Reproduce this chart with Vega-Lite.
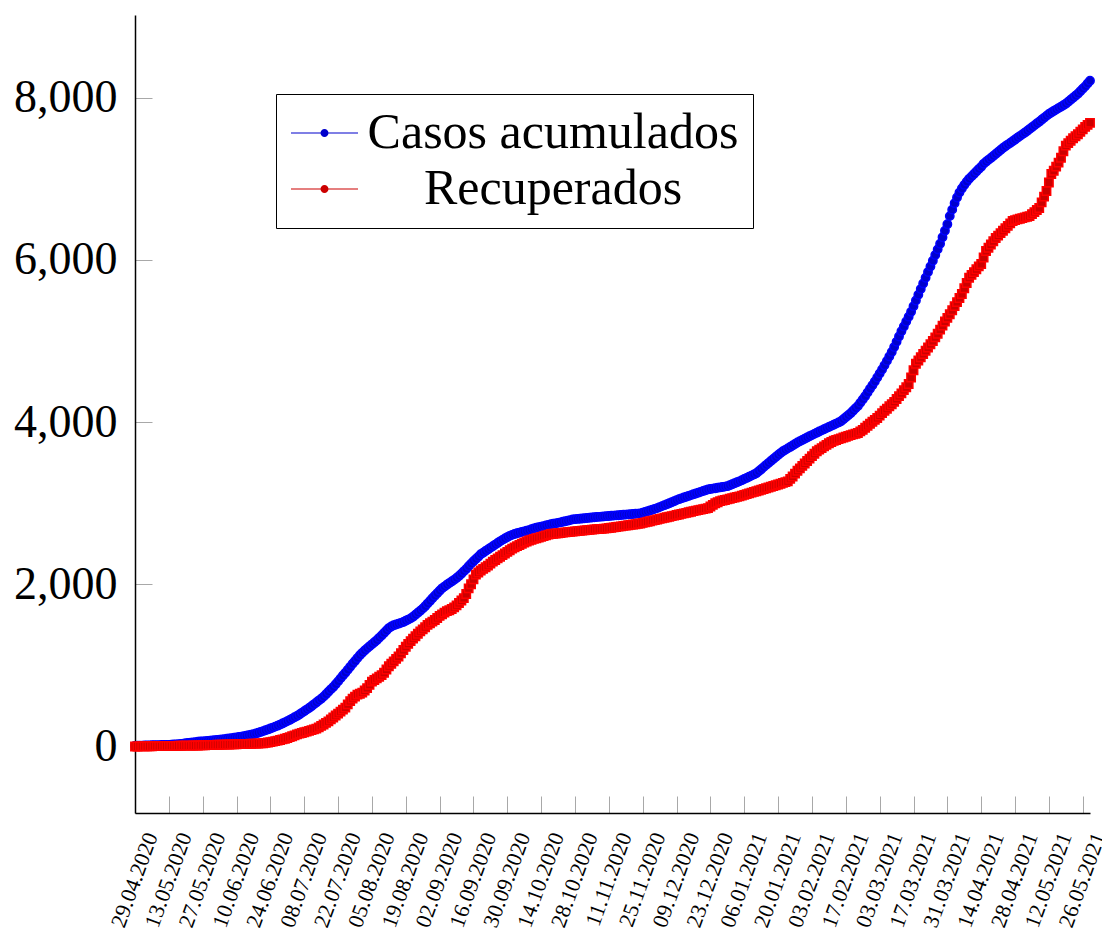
{
"$schema": "https://vega.github.io/schema/vega-lite/v6.json",
"width": 955,
"height": 798,
"autosize": {"type": "none"},
"padding": {"left": 135, "top": 15, "right": 12, "bottom": 119},
"background": "white",
"config": {"view": {"stroke": null}, "font": "Liberation Serif"},
"data": {"values": [
{"date":"2020-04-29","c":8,"r":0},{"date":"2020-04-30","c":9,"r":0},
{"date":"2020-05-01","c":10,"r":1},{"date":"2020-05-02","c":11,"r":1},{"date":"2020-05-03","c":12,"r":2},{"date":"2020-05-04","c":13,"r":2},{"date":"2020-05-05","c":14,"r":3},{"date":"2020-05-06","c":15,"r":3},{"date":"2020-05-07","c":15,"r":4},{"date":"2020-05-08","c":16,"r":4},{"date":"2020-05-09","c":17,"r":5},{"date":"2020-05-10","c":18,"r":5},{"date":"2020-05-11","c":19,"r":6},{"date":"2020-05-12","c":19,"r":6},{"date":"2020-05-13","c":20,"r":7},{"date":"2020-05-14","c":22,"r":7},{"date":"2020-05-15","c":24,"r":8},{"date":"2020-05-16","c":27,"r":8},{"date":"2020-05-17","c":30,"r":9},{"date":"2020-05-18","c":33,"r":9},{"date":"2020-05-19","c":36,"r":10},{"date":"2020-05-20","c":40,"r":10},{"date":"2020-05-21","c":43,"r":11},{"date":"2020-05-22","c":46,"r":11},{"date":"2020-05-23","c":50,"r":12},{"date":"2020-05-24","c":54,"r":12},{"date":"2020-05-25","c":58,"r":13},{"date":"2020-05-26","c":61,"r":14},{"date":"2020-05-27","c":64,"r":15},{"date":"2020-05-28","c":67,"r":16},{"date":"2020-05-29","c":70,"r":17},{"date":"2020-05-30","c":73,"r":18},{"date":"2020-05-31","c":76,"r":19},
{"date":"2020-06-01","c":79,"r":20},{"date":"2020-06-02","c":82,"r":21},{"date":"2020-06-03","c":85,"r":22},{"date":"2020-06-04","c":88,"r":23},{"date":"2020-06-05","c":91,"r":23},{"date":"2020-06-06","c":95,"r":24},{"date":"2020-06-07","c":100,"r":25},{"date":"2020-06-08","c":104,"r":26},{"date":"2020-06-09","c":108,"r":27},{"date":"2020-06-10","c":112,"r":28},{"date":"2020-06-11","c":117,"r":29},{"date":"2020-06-12","c":122,"r":30},{"date":"2020-06-13","c":128,"r":31},{"date":"2020-06-14","c":133,"r":32},{"date":"2020-06-15","c":139,"r":33},{"date":"2020-06-16","c":145,"r":34},{"date":"2020-06-17","c":152,"r":35},{"date":"2020-06-18","c":160,"r":36},{"date":"2020-06-19","c":170,"r":37},{"date":"2020-06-20","c":180,"r":38},{"date":"2020-06-21","c":190,"r":40},{"date":"2020-06-22","c":200,"r":44},{"date":"2020-06-23","c":211,"r":49},{"date":"2020-06-24","c":222,"r":54},{"date":"2020-06-25","c":233,"r":60},{"date":"2020-06-26","c":245,"r":66},{"date":"2020-06-27","c":257,"r":73},{"date":"2020-06-28","c":270,"r":80},{"date":"2020-06-29","c":284,"r":88},{"date":"2020-06-30","c":298,"r":96},
{"date":"2020-07-01","c":313,"r":105},{"date":"2020-07-02","c":328,"r":115},{"date":"2020-07-03","c":344,"r":126},{"date":"2020-07-04","c":360,"r":138},{"date":"2020-07-05","c":377,"r":150},{"date":"2020-07-06","c":395,"r":158},{"date":"2020-07-07","c":415,"r":166},{"date":"2020-07-08","c":435,"r":175},{"date":"2020-07-09","c":455,"r":184},{"date":"2020-07-10","c":475,"r":193},{"date":"2020-07-11","c":497,"r":202},{"date":"2020-07-12","c":520,"r":211},{"date":"2020-07-13","c":543,"r":220},{"date":"2020-07-14","c":566,"r":236},{"date":"2020-07-15","c":590,"r":254},{"date":"2020-07-16","c":615,"r":272},{"date":"2020-07-17","c":645,"r":291},{"date":"2020-07-18","c":675,"r":310},{"date":"2020-07-19","c":705,"r":334},{"date":"2020-07-20","c":735,"r":358},{"date":"2020-07-21","c":768,"r":382},{"date":"2020-07-22","c":803,"r":406},{"date":"2020-07-23","c":840,"r":430},{"date":"2020-07-24","c":875,"r":455},{"date":"2020-07-25","c":910,"r":480},{"date":"2020-07-26","c":945,"r":520},{"date":"2020-07-27","c":982,"r":560},{"date":"2020-07-28","c":1020,"r":590},{"date":"2020-07-29","c":1055,"r":615},{"date":"2020-07-30","c":1090,"r":640},{"date":"2020-07-31","c":1125,"r":650},
{"date":"2020-08-01","c":1155,"r":665},{"date":"2020-08-02","c":1185,"r":690},{"date":"2020-08-03","c":1210,"r":720},{"date":"2020-08-04","c":1235,"r":760},{"date":"2020-08-05","c":1260,"r":800},{"date":"2020-08-06","c":1285,"r":820},{"date":"2020-08-07","c":1310,"r":840},{"date":"2020-08-08","c":1340,"r":860},{"date":"2020-08-09","c":1370,"r":880},{"date":"2020-08-10","c":1400,"r":910},{"date":"2020-08-11","c":1430,"r":950},{"date":"2020-08-12","c":1460,"r":990},{"date":"2020-08-13","c":1480,"r":1020},{"date":"2020-08-14","c":1495,"r":1050},{"date":"2020-08-15","c":1505,"r":1080},{"date":"2020-08-16","c":1515,"r":1110},{"date":"2020-08-17","c":1525,"r":1150},{"date":"2020-08-18","c":1535,"r":1190},{"date":"2020-08-19","c":1550,"r":1230},{"date":"2020-08-20","c":1565,"r":1265},{"date":"2020-08-21","c":1580,"r":1300},{"date":"2020-08-22","c":1600,"r":1330},{"date":"2020-08-23","c":1625,"r":1360},{"date":"2020-08-24","c":1650,"r":1390},{"date":"2020-08-25","c":1675,"r":1420},{"date":"2020-08-26","c":1700,"r":1445},{"date":"2020-08-27","c":1730,"r":1470},{"date":"2020-08-28","c":1762,"r":1500},{"date":"2020-08-29","c":1795,"r":1520},{"date":"2020-08-30","c":1828,"r":1540},{"date":"2020-08-31","c":1860,"r":1560},
{"date":"2020-09-01","c":1890,"r":1585},{"date":"2020-09-02","c":1920,"r":1610},{"date":"2020-09-03","c":1950,"r":1630},{"date":"2020-09-04","c":1972,"r":1650},{"date":"2020-09-05","c":1995,"r":1670},{"date":"2020-09-06","c":2015,"r":1680},{"date":"2020-09-07","c":2035,"r":1695},{"date":"2020-09-08","c":2055,"r":1715},{"date":"2020-09-09","c":2078,"r":1740},{"date":"2020-09-10","c":2102,"r":1770},{"date":"2020-09-11","c":2130,"r":1800},{"date":"2020-09-12","c":2160,"r":1830},{"date":"2020-09-13","c":2190,"r":1880},{"date":"2020-09-14","c":2222,"r":1950},{"date":"2020-09-15","c":2255,"r":2000},{"date":"2020-09-16","c":2285,"r":2060},{"date":"2020-09-17","c":2312,"r":2120},{"date":"2020-09-18","c":2340,"r":2145},{"date":"2020-09-19","c":2370,"r":2170},{"date":"2020-09-20","c":2390,"r":2190},{"date":"2020-09-21","c":2410,"r":2210},{"date":"2020-09-22","c":2430,"r":2230},{"date":"2020-09-23","c":2450,"r":2255},{"date":"2020-09-24","c":2470,"r":2280},{"date":"2020-09-25","c":2490,"r":2300},{"date":"2020-09-26","c":2510,"r":2320},{"date":"2020-09-27","c":2530,"r":2340},{"date":"2020-09-28","c":2548,"r":2360},{"date":"2020-09-29","c":2565,"r":2380},{"date":"2020-09-30","c":2582,"r":2400},
{"date":"2020-10-01","c":2598,"r":2420},{"date":"2020-10-02","c":2610,"r":2440},{"date":"2020-10-03","c":2620,"r":2455},{"date":"2020-10-04","c":2630,"r":2470},{"date":"2020-10-05","c":2638,"r":2485},{"date":"2020-10-06","c":2645,"r":2500},{"date":"2020-10-07","c":2652,"r":2515},{"date":"2020-10-08","c":2660,"r":2528},{"date":"2020-10-09","c":2668,"r":2540},{"date":"2020-10-10","c":2680,"r":2550},{"date":"2020-10-11","c":2690,"r":2560},{"date":"2020-10-12","c":2697,"r":2568},{"date":"2020-10-13","c":2704,"r":2576},{"date":"2020-10-14","c":2711,"r":2585},{"date":"2020-10-15","c":2718,"r":2594},{"date":"2020-10-16","c":2725,"r":2603},{"date":"2020-10-17","c":2733,"r":2612},{"date":"2020-10-18","c":2740,"r":2620},{"date":"2020-10-19","c":2746,"r":2623},{"date":"2020-10-20","c":2752,"r":2627},{"date":"2020-10-21","c":2758,"r":2630},{"date":"2020-10-22","c":2764,"r":2633},{"date":"2020-10-23","c":2771,"r":2637},{"date":"2020-10-24","c":2778,"r":2640},{"date":"2020-10-25","c":2785,"r":2643},{"date":"2020-10-26","c":2792,"r":2647},{"date":"2020-10-27","c":2800,"r":2650},{"date":"2020-10-28","c":2803,"r":2653},{"date":"2020-10-29","c":2806,"r":2656},{"date":"2020-10-30","c":2809,"r":2659},{"date":"2020-10-31","c":2812,"r":2662},
{"date":"2020-11-01","c":2815,"r":2665},{"date":"2020-11-02","c":2818,"r":2668},{"date":"2020-11-03","c":2821,"r":2671},{"date":"2020-11-04","c":2824,"r":2674},{"date":"2020-11-05","c":2827,"r":2677},{"date":"2020-11-06","c":2830,"r":2680},{"date":"2020-11-07","c":2832,"r":2682},{"date":"2020-11-08","c":2834,"r":2684},{"date":"2020-11-09","c":2837,"r":2687},{"date":"2020-11-10","c":2840,"r":2690},{"date":"2020-11-11","c":2842,"r":2694},{"date":"2020-11-12","c":2845,"r":2698},{"date":"2020-11-13","c":2847,"r":2702},{"date":"2020-11-14","c":2850,"r":2706},{"date":"2020-11-15","c":2852,"r":2711},{"date":"2020-11-16","c":2855,"r":2715},{"date":"2020-11-17","c":2857,"r":2720},{"date":"2020-11-18","c":2860,"r":2724},{"date":"2020-11-19","c":2862,"r":2728},{"date":"2020-11-20","c":2865,"r":2733},{"date":"2020-11-21","c":2867,"r":2737},{"date":"2020-11-22","c":2870,"r":2741},{"date":"2020-11-23","c":2872,"r":2746},{"date":"2020-11-24","c":2875,"r":2750},{"date":"2020-11-25","c":2883,"r":2757},{"date":"2020-11-26","c":2892,"r":2764},{"date":"2020-11-27","c":2901,"r":2771},{"date":"2020-11-28","c":2910,"r":2778},{"date":"2020-11-29","c":2920,"r":2785},{"date":"2020-11-30","c":2930,"r":2792},
{"date":"2020-12-01","c":2940,"r":2799},{"date":"2020-12-02","c":2952,"r":2806},{"date":"2020-12-03","c":2964,"r":2813},{"date":"2020-12-04","c":2976,"r":2820},{"date":"2020-12-05","c":2988,"r":2827},{"date":"2020-12-06","c":3000,"r":2833},{"date":"2020-12-07","c":3012,"r":2840},{"date":"2020-12-08","c":3025,"r":2847},{"date":"2020-12-09","c":3038,"r":2854},{"date":"2020-12-10","c":3050,"r":2861},{"date":"2020-12-11","c":3060,"r":2868},{"date":"2020-12-12","c":3070,"r":2874},{"date":"2020-12-13","c":3080,"r":2881},{"date":"2020-12-14","c":3090,"r":2888},{"date":"2020-12-15","c":3100,"r":2895},{"date":"2020-12-16","c":3110,"r":2902},{"date":"2020-12-17","c":3120,"r":2908},{"date":"2020-12-18","c":3130,"r":2915},{"date":"2020-12-19","c":3140,"r":2921},{"date":"2020-12-20","c":3150,"r":2927},{"date":"2020-12-21","c":3160,"r":2934},{"date":"2020-12-22","c":3170,"r":2940},{"date":"2020-12-23","c":3175,"r":2960},{"date":"2020-12-24","c":3180,"r":2980},{"date":"2020-12-25","c":3185,"r":3000},{"date":"2020-12-26","c":3190,"r":3012},{"date":"2020-12-27","c":3195,"r":3025},{"date":"2020-12-28","c":3200,"r":3033},{"date":"2020-12-29","c":3205,"r":3040},{"date":"2020-12-30","c":3210,"r":3048},{"date":"2020-12-31","c":3222,"r":3055},
{"date":"2021-01-01","c":3234,"r":3063},{"date":"2021-01-02","c":3246,"r":3070},{"date":"2021-01-03","c":3258,"r":3078},{"date":"2021-01-04","c":3270,"r":3085},{"date":"2021-01-05","c":3284,"r":3094},{"date":"2021-01-06","c":3298,"r":3103},{"date":"2021-01-07","c":3312,"r":3112},{"date":"2021-01-08","c":3326,"r":3121},{"date":"2021-01-09","c":3340,"r":3130},{"date":"2021-01-10","c":3355,"r":3139},{"date":"2021-01-11","c":3370,"r":3148},{"date":"2021-01-12","c":3395,"r":3157},{"date":"2021-01-13","c":3420,"r":3166},{"date":"2021-01-14","c":3445,"r":3175},{"date":"2021-01-15","c":3470,"r":3185},{"date":"2021-01-16","c":3495,"r":3194},{"date":"2021-01-17","c":3520,"r":3203},{"date":"2021-01-18","c":3545,"r":3212},{"date":"2021-01-19","c":3570,"r":3221},{"date":"2021-01-20","c":3595,"r":3230},{"date":"2021-01-21","c":3618,"r":3240},{"date":"2021-01-22","c":3640,"r":3250},{"date":"2021-01-23","c":3658,"r":3260},{"date":"2021-01-24","c":3676,"r":3270},{"date":"2021-01-25","c":3694,"r":3300},{"date":"2021-01-26","c":3712,"r":3330},{"date":"2021-01-27","c":3730,"r":3365},{"date":"2021-01-28","c":3748,"r":3400},{"date":"2021-01-29","c":3765,"r":3430},{"date":"2021-01-30","c":3780,"r":3460},{"date":"2021-01-31","c":3795,"r":3490},
{"date":"2021-02-01","c":3810,"r":3520},{"date":"2021-02-02","c":3825,"r":3550},{"date":"2021-02-03","c":3840,"r":3580},{"date":"2021-02-04","c":3855,"r":3610},{"date":"2021-02-05","c":3870,"r":3640},{"date":"2021-02-06","c":3884,"r":3660},{"date":"2021-02-07","c":3898,"r":3680},{"date":"2021-02-08","c":3912,"r":3700},{"date":"2021-02-09","c":3926,"r":3720},{"date":"2021-02-10","c":3940,"r":3740},{"date":"2021-02-11","c":3954,"r":3755},{"date":"2021-02-12","c":3968,"r":3770},{"date":"2021-02-13","c":3982,"r":3780},{"date":"2021-02-14","c":3996,"r":3790},{"date":"2021-02-15","c":4010,"r":3800},{"date":"2021-02-16","c":4035,"r":3810},{"date":"2021-02-17","c":4060,"r":3820},{"date":"2021-02-18","c":4085,"r":3830},{"date":"2021-02-19","c":4110,"r":3840},{"date":"2021-02-20","c":4140,"r":3848},{"date":"2021-02-21","c":4170,"r":3856},{"date":"2021-02-22","c":4200,"r":3865},{"date":"2021-02-23","c":4240,"r":3885},{"date":"2021-02-24","c":4280,"r":3905},{"date":"2021-02-25","c":4320,"r":3930},{"date":"2021-02-26","c":4365,"r":3955},{"date":"2021-02-27","c":4410,"r":3980},{"date":"2021-02-28","c":4455,"r":4005},
{"date":"2021-03-01","c":4500,"r":4028},{"date":"2021-03-02","c":4550,"r":4050},{"date":"2021-03-03","c":4600,"r":4080},{"date":"2021-03-04","c":4650,"r":4110},{"date":"2021-03-05","c":4700,"r":4140},{"date":"2021-03-06","c":4755,"r":4165},{"date":"2021-03-07","c":4810,"r":4195},{"date":"2021-03-08","c":4865,"r":4220},{"date":"2021-03-09","c":4925,"r":4250},{"date":"2021-03-10","c":4990,"r":4285},{"date":"2021-03-11","c":5055,"r":4320},{"date":"2021-03-12","c":5120,"r":4355},{"date":"2021-03-13","c":5180,"r":4395},{"date":"2021-03-14","c":5240,"r":4430},{"date":"2021-03-15","c":5300,"r":4470},{"date":"2021-03-16","c":5360,"r":4550},{"date":"2021-03-17","c":5430,"r":4640},{"date":"2021-03-18","c":5500,"r":4720},{"date":"2021-03-19","c":5570,"r":4760},{"date":"2021-03-20","c":5640,"r":4800},{"date":"2021-03-21","c":5710,"r":4840},{"date":"2021-03-22","c":5780,"r":4880},{"date":"2021-03-23","c":5850,"r":4920},{"date":"2021-03-24","c":5920,"r":4960},{"date":"2021-03-25","c":5990,"r":5000},{"date":"2021-03-26","c":6060,"r":5045},{"date":"2021-03-27","c":6130,"r":5090},{"date":"2021-03-28","c":6200,"r":5140},{"date":"2021-03-29","c":6280,"r":5190},{"date":"2021-03-30","c":6360,"r":5240},{"date":"2021-03-31","c":6440,"r":5285},
{"date":"2021-04-01","c":6540,"r":5330},{"date":"2021-04-02","c":6620,"r":5380},{"date":"2021-04-03","c":6700,"r":5430},{"date":"2021-04-04","c":6770,"r":5480},{"date":"2021-04-05","c":6830,"r":5530},{"date":"2021-04-06","c":6880,"r":5580},{"date":"2021-04-07","c":6925,"r":5650},{"date":"2021-04-08","c":6965,"r":5715},{"date":"2021-04-09","c":7000,"r":5780},{"date":"2021-04-10","c":7030,"r":5815},{"date":"2021-04-11","c":7060,"r":5850},{"date":"2021-04-12","c":7090,"r":5885},{"date":"2021-04-13","c":7120,"r":5920},{"date":"2021-04-14","c":7150,"r":5950},{"date":"2021-04-15","c":7185,"r":6030},{"date":"2021-04-16","c":7210,"r":6110},{"date":"2021-04-17","c":7234,"r":6150},{"date":"2021-04-18","c":7258,"r":6190},{"date":"2021-04-19","c":7282,"r":6230},{"date":"2021-04-20","c":7306,"r":6270},{"date":"2021-04-21","c":7330,"r":6300},{"date":"2021-04-22","c":7355,"r":6330},{"date":"2021-04-23","c":7380,"r":6360},{"date":"2021-04-24","c":7401,"r":6390},{"date":"2021-04-25","c":7422,"r":6420},{"date":"2021-04-26","c":7443,"r":6450},{"date":"2021-04-27","c":7464,"r":6480},{"date":"2021-04-28","c":7485,"r":6490},{"date":"2021-04-29","c":7506,"r":6500},{"date":"2021-04-30","c":7527,"r":6508},
{"date":"2021-05-01","c":7548,"r":6516},{"date":"2021-05-02","c":7569,"r":6524},{"date":"2021-05-03","c":7590,"r":6532},{"date":"2021-05-04","c":7613,"r":6540},{"date":"2021-05-05","c":7636,"r":6565},{"date":"2021-05-06","c":7659,"r":6590},{"date":"2021-05-07","c":7682,"r":6615},{"date":"2021-05-08","c":7705,"r":6640},{"date":"2021-05-09","c":7728,"r":6710},{"date":"2021-05-10","c":7752,"r":6780},{"date":"2021-05-11","c":7776,"r":6850},{"date":"2021-05-12","c":7800,"r":6955},{"date":"2021-05-13","c":7818,"r":7060},{"date":"2021-05-14","c":7836,"r":7100},{"date":"2021-05-15","c":7854,"r":7150},{"date":"2021-05-16","c":7872,"r":7200},{"date":"2021-05-17","c":7890,"r":7260},{"date":"2021-05-18","c":7908,"r":7340},{"date":"2021-05-19","c":7925,"r":7410},{"date":"2021-05-20","c":7950,"r":7440},{"date":"2021-05-21","c":7975,"r":7470},{"date":"2021-05-22","c":8000,"r":7500},{"date":"2021-05-23","c":8025,"r":7525},{"date":"2021-05-24","c":8050,"r":7550},{"date":"2021-05-25","c":8080,"r":7580},{"date":"2021-05-26","c":8110,"r":7610},{"date":"2021-05-27","c":8140,"r":7640},{"date":"2021-05-28","c":8175,"r":7665},{"date":"2021-05-29","c":8210,"r":7690}
]},
"transform": [{"fold": ["c", "r"], "as": ["serie", "valor"]}],
"encoding": {
  "x": {
    "field": "date", "type": "temporal",
    "scale": {"type": "utc", "nice": false, "domain": [{"year": 2020, "month": 4, "date": 29, "utc": true}, {"year": 2021, "month": 5, "date": 29, "utc": true}]},
    "axis": {
      "title": null, "grid": false,
      "values": [
        {"year":2020,"month":4,"date":29,"utc":true},{"year":2020,"month":5,"date":13,"utc":true},{"year":2020,"month":5,"date":27,"utc":true},
        {"year":2020,"month":6,"date":10,"utc":true},{"year":2020,"month":6,"date":24,"utc":true},{"year":2020,"month":7,"date":8,"utc":true},
        {"year":2020,"month":7,"date":22,"utc":true},{"year":2020,"month":8,"date":5,"utc":true},{"year":2020,"month":8,"date":19,"utc":true},
        {"year":2020,"month":9,"date":2,"utc":true},{"year":2020,"month":9,"date":16,"utc":true},{"year":2020,"month":9,"date":30,"utc":true},
        {"year":2020,"month":10,"date":14,"utc":true},{"year":2020,"month":10,"date":28,"utc":true},{"year":2020,"month":11,"date":11,"utc":true},
        {"year":2020,"month":11,"date":25,"utc":true},{"year":2020,"month":12,"date":9,"utc":true},{"year":2020,"month":12,"date":23,"utc":true},
        {"year":2021,"month":1,"date":6,"utc":true},{"year":2021,"month":1,"date":20,"utc":true},{"year":2021,"month":2,"date":3,"utc":true},
        {"year":2021,"month":2,"date":17,"utc":true},{"year":2021,"month":3,"date":3,"utc":true},{"year":2021,"month":3,"date":17,"utc":true},
        {"year":2021,"month":3,"date":31,"utc":true},{"year":2021,"month":4,"date":14,"utc":true},{"year":2021,"month":4,"date":28,"utc":true},
        {"year":2021,"month":5,"date":12,"utc":true},{"year":2021,"month":5,"date":26,"utc":true}
      ],
      "labelExpr": "utcFormat(datum.value, '%d.%m.%Y')",
      "labelAngle": -70, "labelAlign": "right", "labelBaseline": "middle",
      "labelFont": "Liberation Serif", "labelFontSize": 22, "labelColor": "black",
      "labelPadding": 37, "labelOffset": 16,
      "labelOverlap": false, "labelFlush": false, "labelBound": false,
      "tickSize": -17, "tickColor": "#a8a8a8", "tickWidth": 1,
      "domainColor": "black", "domainWidth": 1.5
    }
  },
  "y": {
    "field": "valor", "type": "quantitative",
    "scale": {"domain": [-820, 9020], "nice": false, "zero": false},
    "axis": {
      "title": null, "grid": false,
      "values": [0, 2000, 4000, 6000, 8000], "format": ",d",
      "labelFont": "Liberation Serif", "labelFontSize": 46, "labelColor": "black",
      "labelPadding": 35,
      "tickSize": -17, "tickColor": "#a8a8a8", "tickWidth": 1,
      "domainColor": "black", "domainWidth": 1.5
    }
  }
},
"layer": [
  {
    "transform": [{"filter": "datum.serie == 'c'"}],
    "mark": {"type": "point", "filled": true, "opacity": 1, "shape": "circle", "stroke": "#0000ff", "strokeWidth": 1.5, "size": 70},
    "encoding": {
      "color": {
        "field": "serie", "type": "nominal",
        "scale": {"domain": ["c", "r"], "range": ["#0000cc", "#cc0000"]},
        "legend": {
          "orient": "none", "legendX": 141, "legendY": 79, "title": null,
          "labelExpr": "datum.value == 'c' ? 'Casos acumulados' : 'Recuperados'",
          "labelFont": "Liberation Serif", "labelFontSize": 50, "labelColor": "black",
          "labelAlign": "center", "labelOffset": 213, "labelLimit": 1000,
          "symbolSize": 1600, "symbolStrokeWidth": 0, "symbolOpacity": 1,
          "symbolType": "M-1.2,-0.03L2.15,-0.03L2.15,0.03L-1.2,0.03ZM0.675,0A0.2,0.2,0,1,1,0.275,0A0.2,0.2,0,1,1,0.675,0Z",
          "strokeColor": "black", "fillColor": "white", "padding": 14, "rowPadding": 6,
          "cornerRadius": 0
        }
      }
    }
  },
  {
    "transform": [{"filter": "datum.serie == 'r'"}],
    "mark": {"type": "point", "filled": true, "opacity": 1, "shape": "square", "stroke": "#ff0000", "strokeWidth": 1.5, "size": 70},
    "encoding": {
      "color": {
        "field": "serie", "type": "nominal",
        "scale": {"domain": ["c", "r"], "range": ["#0000cc", "#cc0000"]},
        "legend": {
          "orient": "none", "legendX": 141, "legendY": 79, "title": null,
          "labelExpr": "datum.value == 'c' ? 'Casos acumulados' : 'Recuperados'",
          "labelFont": "Liberation Serif", "labelFontSize": 50, "labelColor": "black",
          "labelAlign": "center", "labelOffset": 213, "labelLimit": 1000,
          "symbolSize": 1600, "symbolStrokeWidth": 0, "symbolOpacity": 1,
          "symbolType": "M-1.2,-0.03L2.15,-0.03L2.15,0.03L-1.2,0.03ZM0.675,0A0.2,0.2,0,1,1,0.275,0A0.2,0.2,0,1,1,0.675,0Z",
          "strokeColor": "black", "fillColor": "white", "padding": 14, "rowPadding": 6,
          "cornerRadius": 0
        }
      }
    }
  }
]
}
